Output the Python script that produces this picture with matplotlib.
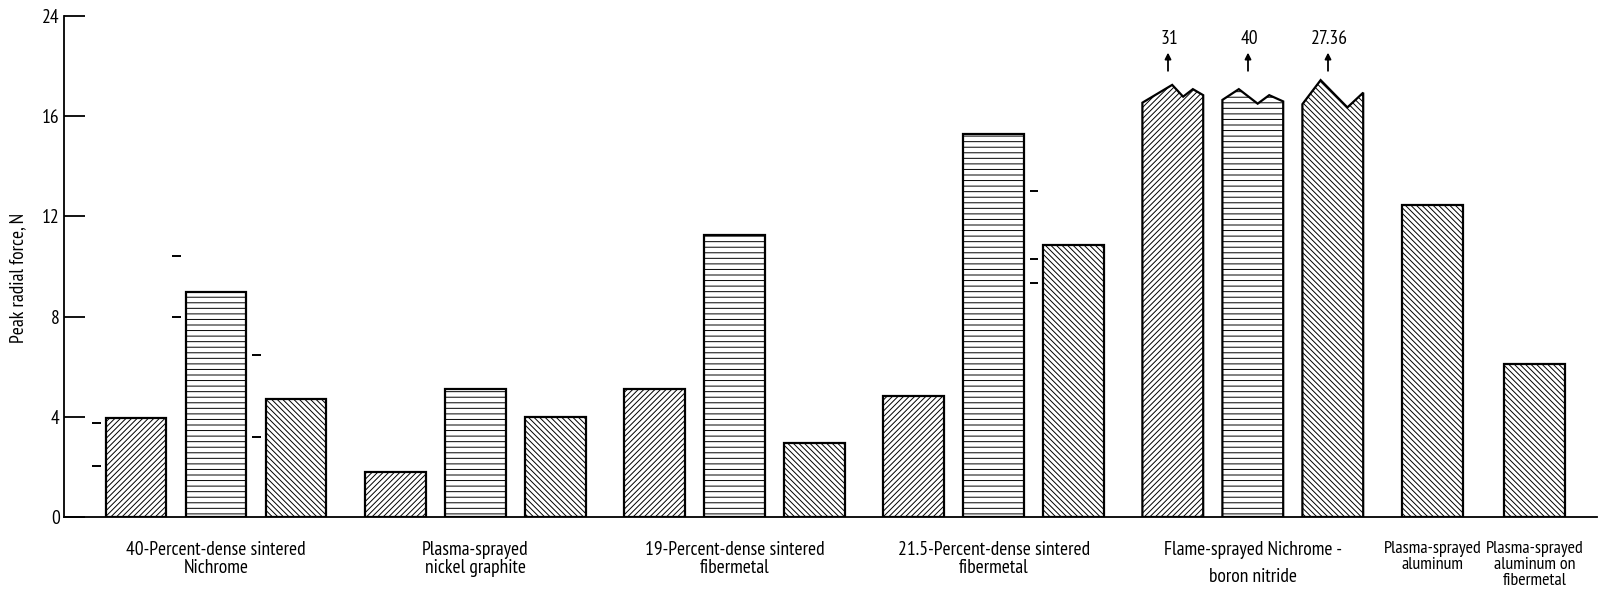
import numpy as np
import matplotlib.pyplot as plt
from matplotlib.patches import Polygon

plt.rcParams["font.family"] = ["PT Sans Narrow", "Roboto Condensed", "DejaVu Sans"]
plt.rcParams["hatch.linewidth"] = 0.7

# coating systems along the x axis
coatings = [
    "40-Percent-dense sintered\nNichrome",
    "Plasma-sprayed\nnickel graphite",
    "19-Percent-dense sintered\nfibermetal",
    "21.5-Percent-dense sintered\nfibermetal",
    "Flame-sprayed Nichrome -\nboron nitride",
    "Plasma-sprayed\naluminum",
    "Plasma-sprayed\naluminum on\nfibermetal",
]

# peak radial force, N -- three runs for the first five coatings
force_run1 = [3.95, 1.8, 5.1, 4.85, 31.0]
force_run2 = [9.0, 5.1, 11.25, 15.3, 40.0]
force_run3 = [4.7, 4.0, 2.95, 10.85, 27.36]
# single run for the last two coatings
force_single = [12.45, 6.1]

# individual readings marked beside some bars: (coating, run) -> values
readings = {
    (0, 0): [3.75, 2.05],
    (0, 1): [10.4, 8.0],
    (0, 2): [6.45, 3.2],
    (3, 2): [13.0, 10.3, 9.35],
}

y_ticks = [0, 4, 8, 12, 16, 24]

BREAK = 16.0
BAR_W = 0.76
FS = 14
HATCHES = ["/" * 6, "---", "\\" * 6]
# jagged top outline for broken bars (fraction of width, offset above break)
BREAK_SHAPES = [
    [(0.0, 0.54), (0.49, 1.25), (0.67, 0.78), (0.83, 1.08), (1.0, 0.84)],
    [(0.0, 0.65), (0.27, 1.08), (0.58, 0.5), (0.77, 0.84), (1.0, 0.59)],
    [(0.0, 0.48), (0.30, 1.44), (0.74, 0.35), (1.0, 0.94)],
]


def to_axis(v):
    # linear up to 16, then the 16-24 span is squeezed into one tick step
    v = np.asarray(v, dtype=float)
    return np.where(v <= BREAK, v, BREAK + (v - BREAK) / 2.0)


fig = plt.figure(figsize=(16.11, 5.97), dpi=100)
ax = fig.add_axes([64 / 1611, 80 / 597, 1533 / 1611, 501 / 597])

group_centers = 1.9 + 3.24 * np.arange(5)
runs = [force_run1, force_run2, force_run3]
label_x = list(group_centers)

for g, center in enumerate(group_centers):
    for r in range(3):
        x = center + (r - 1) * 1.0
        val = runs[r][g]
        x0, x1 = x - BAR_W / 2, x + BAR_W / 2
        if val > BREAK:
            shape = BREAK_SHAPES[r]
            pts = [(x0, 0)] + [(x0 + f * BAR_W, BREAK + dy) for f, dy in shape] + [(x1, 0)]
            ax.add_patch(Polygon(pts, closed=True, facecolor="white",
                                 edgecolor="black", hatch=HATCHES[r], lw=1.6))
            ax.annotate("", xy=(x - 0.06, 18.65), xytext=(x - 0.06, 17.7),
                        arrowprops=dict(arrowstyle="-|>", color="black", lw=1.3,
                                        mutation_scale=9))
            ax.text(x - 0.04, 19.1, f"{val:g}", ha="center", va="center", fontsize=FS)
        else:
            ax.bar(x, to_axis(val), width=BAR_W, color="white", edgecolor="black",
                   hatch=HATCHES[r], lw=1.6)
        for v in readings.get((g, r), []):
            ax.hlines(to_axis(v), x0 - 0.17, x0 - 0.06, color="black", lw=1.4)

x6 = group_centers[-1] + 1.0 + 1.25
x7 = x6 + 1.27
for x, val in zip([x6, x7], force_single):
    ax.bar(x, to_axis(val), width=BAR_W, color="white", edgecolor="black",
           hatch=HATCHES[2], lw=1.6)
label_x += [x6, x7]

for i, (x, name) in enumerate(zip(label_x, coatings)):
    spacing = 1.65 if name.startswith("Flame") else 1.0
    size = FS if i < 5 else FS - 1
    ax.annotate(name, xy=(x, 0), xycoords=("data", "axes fraction"),
                xytext=(0, -17), textcoords="offset points",
                ha="center", va="top", fontsize=size, linespacing=spacing,
                annotation_clip=False)

ax.set_xlim(0, 1533 / 80)
ax.set_ylim(0, 20)
ax.set_yticks(to_axis(y_ticks))
ax.set_yticklabels([str(t) for t in y_ticks], fontsize=FS)
ax.set_xticks([])
ax.tick_params(axis="y", direction="in", length=15, width=1.3, pad=3)
for side in ["top", "right"]:
    ax.spines[side].set_visible(False)
ax.spines["left"].set_linewidth(1.3)
ax.spines["bottom"].set_linewidth(1.3)

fig.text(18 / 1611, 1 - 278 / 597, "Peak radial force, N", rotation=90,
         ha="center", va="center", fontsize=FS)

fig.savefig("out.png", dpi=100)
